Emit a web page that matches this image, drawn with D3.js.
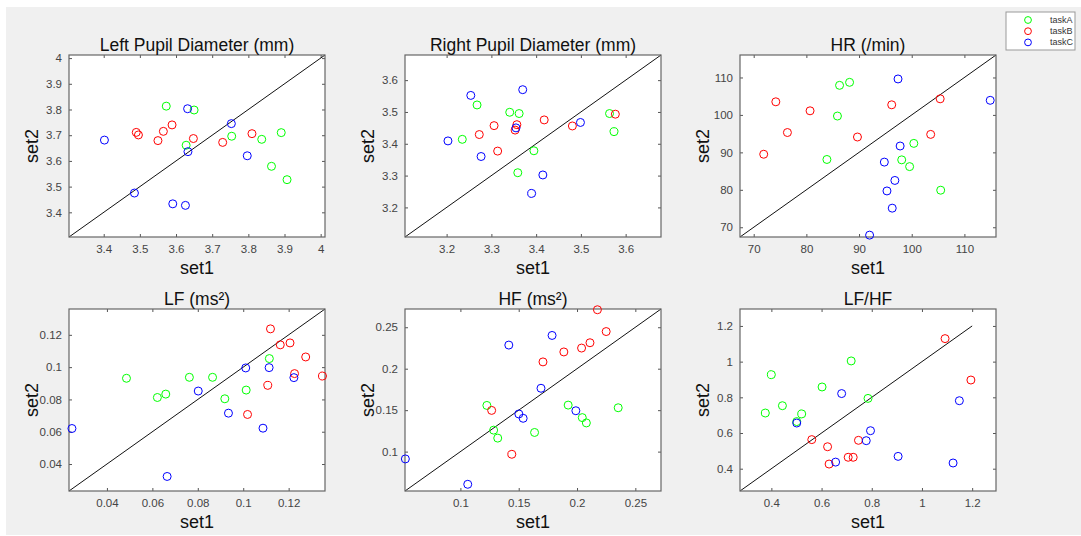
<!DOCTYPE html>
<html>
<head>
<meta charset="utf-8">
<script src="https://cdn.jsdelivr.net/npm/d3@7"></script>
<style>
  body { margin: 0; background: #fff; }
  svg { display: block; font-family: "Liberation Sans", Arial, sans-serif; }
</style>
</head>
<body>
<div id="chart"></div>
<script>
// panel titles and task names
const titles = ["Left Pupil Diameter (mm)", "Right Pupil Diameter (mm)", "HR (/min)",
                "LF (ms\u00B2)", "HF (ms\u00B2)", "LF/HF"];
const tasks = ["taskA", "taskB", "taskC"];
const taskColors = ["#00ff00", "#ff0000", "#0000ff"];

// axis limits (same for set1 and set2), tick values, and where the identity line ends
const limits = [[3.304, 4.012], [3.107, 3.679], [67.4, 116], [0.0233, 0.136], [0.0525, 0.272], [0.275, 1.295]];
const ticks = [
  [3.4, 3.5, 3.6, 3.7, 3.8, 3.9, 4],
  [3.2, 3.3, 3.4, 3.5, 3.6],
  [70, 80, 90, 100, 110],
  [0.04, 0.06, 0.08, 0.1, 0.12],
  [0.1, 0.15, 0.2, 0.25],
  [0.4, 0.6, 0.8, 1, 1.2]
];
const lineEnd = [4.012, 3.679, 116, 0.136, 0.272, 1.2];

// [set1, set2] per task
const leftPupil = {
  taskA: [[3.573, 3.813], [3.650, 3.798], [3.628, 3.661], [3.754, 3.696], [3.837, 3.684], [3.891, 3.710], [3.864, 3.579], [3.907, 3.527]],
  taskB: [[3.490, 3.711], [3.496, 3.701], [3.550, 3.679], [3.565, 3.715], [3.589, 3.740], [3.648, 3.687], [3.729, 3.672], [3.810, 3.706]],
  taskC: [[3.402, 3.681], [3.632, 3.803], [3.753, 3.745], [3.633, 3.636], [3.797, 3.620], [3.485, 3.475], [3.591, 3.433], [3.626, 3.427]]
};
const rightPupil = {
  taskA: [[3.268, 3.522], [3.235, 3.414], [3.341, 3.499], [3.362, 3.495], [3.395, 3.378], [3.359, 3.309], [3.564, 3.495], [3.574, 3.438]],
  taskB: [[3.273, 3.429], [3.306, 3.457], [3.314, 3.377], [3.353, 3.443], [3.357, 3.460], [3.418, 3.475], [3.481, 3.456], [3.577, 3.493]],
  taskC: [[3.203, 3.409], [3.254, 3.552], [3.277, 3.360], [3.355, 3.450], [3.370, 3.570], [3.415, 3.302], [3.390, 3.244], [3.499, 3.467]]
};
const heartRate = {
  taskA: [[83.9, 88.1], [85.9, 99.7], [86.3, 107.9], [88.2, 108.7], [98.1, 88.0], [99.6, 86.2], [100.4, 92.4], [105.5, 79.9]],
  taskB: [[71.9, 89.5], [74.2, 103.5], [76.4, 95.3], [80.7, 101.1], [89.7, 94.1], [96.2, 102.7], [103.6, 94.8], [105.4, 104.3]],
  taskC: [[92.0, 67.9], [94.8, 87.4], [95.3, 79.7], [96.3, 75.1], [96.8, 82.5], [97.4, 109.6], [97.8, 91.7], [114.9, 103.9]]
};
const lf = {
  taskA: [[0.0486, 0.0931], [0.0622, 0.0812], [0.0659, 0.0833], [0.0763, 0.0937], [0.0865, 0.0937], [0.0919, 0.0804], [0.1013, 0.0858], [0.1115, 0.1053]],
  taskB: [[0.1120, 0.1237], [0.1163, 0.1138], [0.1206, 0.1150], [0.1275, 0.1063], [0.1226, 0.0960], [0.1349, 0.0945], [0.1108, 0.0887], [0.1019, 0.0707]],
  taskC: [[0.0246, 0.0620], [0.0665, 0.0323], [0.0802, 0.0852], [0.0935, 0.0715], [0.1011, 0.0995], [0.1114, 0.0997], [0.1087, 0.0622], [0.1223, 0.0935]]
};
const hf = {
  taskA: [[0.1227, 0.1557], [0.1285, 0.1259], [0.1320, 0.1163], [0.1636, 0.1231], [0.1924, 0.1561], [0.2045, 0.1410], [0.2080, 0.1346], [0.2353, 0.1529]],
  taskB: [[0.1268, 0.1497], [0.1441, 0.0968], [0.1708, 0.2082], [0.1887, 0.2202], [0.2039, 0.2249], [0.2111, 0.2313], [0.2250, 0.2448], [0.2175, 0.2711]],
  taskC: [[0.0528, 0.0912], [0.1063, 0.0606], [0.1415, 0.2285], [0.1501, 0.1454], [0.1538, 0.1402], [0.1691, 0.1764], [0.1786, 0.2401], [0.1990, 0.1493]]
};
const lfhf = {
  taskA: [[0.376, 0.712], [0.400, 0.927], [0.444, 0.753], [0.501, 0.664], [0.521, 0.707], [0.602, 0.858], [0.718, 1.004], [0.785, 0.794]],
  taskB: [[0.561, 0.563], [0.624, 0.523], [0.630, 0.426], [0.706, 0.464], [0.726, 0.464], [0.747, 0.559], [1.092, 1.129], [1.195, 0.897]],
  taskC: [[0.501, 0.656], [0.656, 0.437], [0.680, 0.821], [0.778, 0.557], [0.795, 0.613], [0.905, 0.469], [1.124, 0.432], [1.149, 0.781]]
};
const panelData = [leftPupil, rightPupil, heartRate, lf, hf, lfhf];

const width = 1081, height = 536;
const colX = [69, 405, 740], rowY = [55, 309];
const pw = 256, ph = 182;

const svg = d3.select("#chart").append("svg")
  .attr("width", width)
  .attr("height", height);

// figure background
svg.append("rect")
  .attr("x", 6).attr("y", 7)
  .attr("width", width - 6).attr("height", height - 8)
  .attr("fill", "#f0f0f0");

const fmt = d3.format("~g");

panelData.forEach((data, i) => {
  const g = svg.append("g")
    .attr("transform", "translate(" + colX[i % 3] + "," + rowY[Math.floor(i / 3)] + ")");

  const x = d3.scaleLinear().domain(limits[i]).range([0, pw]);
  const y = d3.scaleLinear().domain(limits[i]).range([ph, 0]);

  g.append("rect")
    .attr("width", pw).attr("height", ph)
    .attr("fill", "#fff");

  // axes with inward ticks, mirrored on top/right
  g.append("g").attr("class", "axis")
    .attr("transform", "translate(0," + ph + ")")
    .call(d3.axisBottom(x).tickValues(ticks[i]).tickFormat(fmt).tickSizeInner(-3).tickSizeOuter(0).tickPadding(8));
  g.append("g").attr("class", "axis")
    .call(d3.axisLeft(y).tickValues(ticks[i]).tickFormat(fmt).tickSizeInner(-3).tickSizeOuter(0).tickPadding(7));
  g.append("g").attr("class", "axis")
    .call(d3.axisTop(x).tickValues(ticks[i]).tickFormat("").tickSizeInner(-3).tickSizeOuter(0));
  g.append("g").attr("class", "axis")
    .attr("transform", "translate(" + pw + ",0)")
    .call(d3.axisRight(y).tickValues(ticks[i]).tickFormat("").tickSizeInner(-3).tickSizeOuter(0));

  g.selectAll(".axis .domain").remove();
  g.selectAll(".axis line").attr("stroke", "#555");
  g.selectAll(".axis text")
    .attr("fill", "#444")
    .style("font-size", "11.5px")
    .style("font-family", "Liberation Sans, Arial, sans-serif");

  // identity line
  const lo = limits[i][0], hi = lineEnd[i];
  g.append("line")
    .attr("x1", x(lo)).attr("y1", y(lo))
    .attr("x2", x(hi)).attr("y2", y(hi))
    .attr("stroke", "#111")
    .attr("stroke-width", 1);

  // box
  g.append("rect")
    .attr("width", pw).attr("height", ph)
    .attr("fill", "none")
    .attr("stroke", "#666")
    .attr("stroke-width", 1.2);

  tasks.forEach((t, k) => {
    g.selectAll(null)
      .data(data[t])
      .enter()
      .append("circle")
      .attr("cx", d => x(d[0]))
      .attr("cy", d => y(d[1]))
      .attr("r", 4)
      .attr("fill", "none")
      .attr("stroke", taskColors[k])
      .attr("stroke-width", 1);
  });

  g.append("text")
    .attr("x", pw / 2).attr("y", -4)
    .attr("text-anchor", "middle")
    .style("font-size", "17.5px")
    .attr("fill", "#111")
    .text(titles[i]);

  g.append("text")
    .attr("x", pw / 2).attr("y", ph + 37)
    .attr("text-anchor", "middle")
    .style("font-size", "18px")
    .attr("fill", "#111")
    .text("set1");

  g.append("text")
    .attr("transform", "translate(-31," + (ph / 2) + ") rotate(-90)")
    .attr("text-anchor", "middle")
    .style("font-size", "18px")
    .attr("fill", "#111")
    .text("set2");
});

// legend
const legend = svg.append("g").attr("transform", "translate(1006,12)");
legend.append("rect")
  .attr("width", 69).attr("height", 38)
  .attr("fill", "#fff")
  .attr("stroke", "#999");
tasks.forEach((t, k) => {
  legend.append("circle")
    .attr("cx", 22).attr("cy", 8 + k * 11.2)
    .attr("r", 3.4)
    .attr("fill", "none")
    .attr("stroke", taskColors[k]);
  legend.append("text")
    .attr("x", 44).attr("y", 11 + k * 11.2)
    .style("font-size", "9px")
    .attr("fill", "#333")
    .text(t);
});
</script>
</body>
</html>
